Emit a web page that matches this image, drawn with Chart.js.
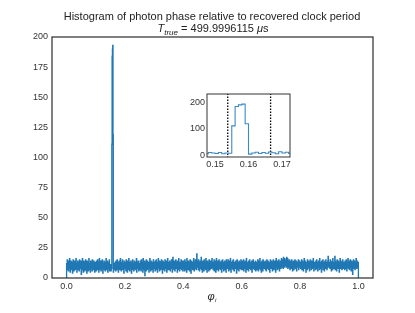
<!DOCTYPE html>
<html><head><meta charset="utf-8">
<script src="https://cdn.jsdelivr.net/npm/chart.js@4.4.0/dist/chart.umd.min.js"></script>
<style>
html,body{margin:0;padding:0;background:#fff;}
#wrap{position:relative;width:415px;height:313px;}
#main{position:absolute;left:0;top:0;}
#inset{position:absolute;left:180px;top:86px;}
</style></head><body>
<div id="wrap">
<canvas id="main" width="415" height="313"></canvas>
<canvas id="inset" width="120" height="90"></canvas>
</div>
<script>
// histogram bins: 1000 bins of width 0.001 over [0, 1)
const binStart = 0;
const binWidth = 0.001;
const counts = [
12,9,15,7,13,10,6,14,11,8,16,9,5,12,10,14,7,11,9,13,4,10,15,8,12,6,11,14,9,7,13,10,16,8,11,5,12,9,14,10,7,13,11,6,15,9,12,8,10,14,
3,11,13,7,16,9,12,5,10,14,8,11,6,13,9,15,7,12,10,4,14,8,11,13,6,10,16,9,7,12,11,5,14,10,8,13,9,6,15,11,10,7,12,14,8,11,5,13,9,12,
10,6,14,9,12,7,15,11,8,13,5,10,16,9,12,7,11,14,6,10,13,8,15,9,4,12,10,7,14,11,9,13,6,12,8,16,10,7,11,14,9,5,13,10,12,8,15,6,11,9,
7,11,6,9,8,111,184,190,193,119,5,9,12,7,11,8,13,10,6,14,9,12,7,15,10,8,13,5,11,9,14,10,7,12,16,8,11,6,13,9,10,15,7,12,9,11,4,14,10,8,
13,9,11,6,15,10,8,12,5,14,9,11,7,16,10,13,6,12,8,11,14,9,4,13,10,7,15,11,9,12,6,10,14,8,13,11,7,12,9,16,5,11,10,13,8,14,9,6,12,10,
11,7,14,9,12,6,15,10,8,13,11,5,16,9,12,7,10,14,2,13,9,11,6,15,10,8,12,14,7,11,9,13,5,12,10,16,8,11,6,14,9,12,7,10,13,11,5,15,9,12,
8,13,10,6,14,11,9,15,7,12,10,5,13,9,16,11,8,12,6,14,10,13,7,11,9,15,8,12,4,10,14,9,11,7,13,12,6,15,10,8,11,14,9,5,12,10,16,7,13,11,
9,12,7,14,10,6,13,11,8,15,9,12,5,10,17,8,13,11,7,14,10,6,12,9,15,11,8,13,10,5,14,9,12,7,16,10,11,6,13,9,12,8,15,10,7,11,14,9,6,12,
10,14,8,11,6,15,9,12,7,13,10,5,16,11,9,12,7,14,10,8,13,6,11,15,9,12,4,10,14,8,13,11,7,12,9,16,10,6,13,11,8,15,9,12,7,10,20,11,14,9,
12,7,15,10,13,6,11,9,14,8,12,17,7,10,13,5,11,14,9,12,6,15,10,8,13,11,7,16,9,12,10,5,14,11,8,13,9,6,15,10,12,7,11,14,9,13,8,10,16,11,
9,13,7,12,10,15,6,11,14,8,12,5,10,16,9,13,7,11,14,10,6,12,15,8,11,9,13,7,10,14,12,5,11,9,15,8,13,10,6,12,11,14,7,9,13,10,5,15,11,8,
13,8,11,15,9,6,12,10,14,7,11,16,9,5,13,10,12,8,14,11,7,15,9,12,6,10,13,11,8,14,9,12,4,11,15,10,7,13,9,12,6,14,10,8,11,13,9,15,7,12,
10,14,9,7,12,11,15,6,13,10,8,12,14,9,5,11,16,10,7,13,9,12,11,6,14,10,8,15,12,9,11,7,13,10,14,5,12,9,11,15,8,10,13,7,12,11,9,14,6,10,
12,9,13,7,11,15,10,6,14,9,12,8,16,11,7,13,10,5,12,14,9,11,6,15,10,13,8,12,9,11,14,7,10,13,6,12,15,9,11,8,14,10,7,13,12,9,5,11,15,10,
11,8,14,10,13,6,12,9,15,11,7,13,10,14,8,12,5,11,16,9,13,10,7,14,12,8,11,15,9,6,13,10,12,14,8,11,16,9,13,10,15,12,8,17,11,14,9,16,12,10,
15,11,13,9,17,12,10,16,8,14,11,13,9,15,12,7,14,10,13,11,8,15,9,12,6,13,10,14,11,7,12,9,15,10,13,8,11,14,6,12,10,9,13,11,15,7,12,10,14,9,
11,13,8,12,10,15,7,11,14,9,12,6,13,10,16,8,11,14,9,12,5,10,13,11,7,15,9,12,10,14,8,11,6,13,10,15,9,12,7,11,14,10,8,13,9,16,11,6,12,10,
13,9,12,7,14,10,11,15,8,12,6,13,10,9,14,11,7,16,10,12,8,13,11,5,14,9,12,10,15,7,11,13,9,6,12,14,10,8,15,11,9,13,7,12,10,14,18,9,11,13,
10,12,8,15,11,9,13,6,12,14,10,7,16,11,9,13,8,12,10,18,7,14,11,9,13,6,12,15,10,8,11,14,9,12,5,13,10,16,8,11,14,9,12,7,13,10,15,11,8,12,
9,13,11,7,14,10,12,8,15,11,6,13,9,12,16,10,8,14,11,7,13,10,15,9,12,6,11,14,10,13,3,12,9,15,8,11,14,10,7,13,12,9,16,10,8,14,11,12,9,13
];
const xTicks = [0, 0.2, 0.4, 0.6, 0.8, 1.0];
const yTicks = [0, 25, 50, 75, 100, 125, 150, 175, 200];
const insetXTicks = [0.15, 0.16, 0.17];
const insetYTicks = [0, 100, 200];
const markerLines = [0.1538, 0.1666];

// step outline like matplotlib histtype='step'
const stepPts = [{x: binStart, y: 0}];
counts.forEach((c, i) => stepPts.push({x: binStart + i * binWidth, y: c}));
stepPts.push({x: binStart + counts.length * binWidth, y: counts[counts.length - 1]});
stepPts.push({x: binStart + counts.length * binWidth, y: 0});

const FONT = '"Liberation Sans", Arial, sans-serif';
const TXT = '#333';
const FRAME = '#333';

function fixTicks(list) {
    return scale => { scale.ticks = list.map(v => ({value: v})); };
}

const framePlugin = {
    id: 'frame',
    afterDraw(chart) {
        const a = chart.chartArea, c = chart.ctx;
        c.save();
        c.strokeStyle = FRAME;
        c.lineWidth = chart.canvas.id === 'main' ? 1.25 : 1;
        c.strokeRect(a.left, a.top, a.right - a.left, a.bottom - a.top);
        c.restore();
    }
};

const textPlugin = {
    id: 'texts',
    afterDraw(chart) {
        const c = chart.ctx;
        c.save();
        c.fillStyle = '#222';
        c.textBaseline = 'alphabetic';
        // title line 1
        c.font = '11px ' + FONT;
        c.textAlign = 'center';
        c.fillText('Histogram of photon phase relative to recovered clock period', 212, 20);
        // title line 2 : T_true = 499.9996115 μs
        const parts = [
            {t: 'T', f: 'italic 11px ' + FONT, dy: 0},
            {t: 'true', f: 'italic 8px ' + FONT, dy: 2.5},
            {t: ' = 499.9996115 ', f: '11px ' + FONT, dy: 0},
            {t: 'μ', f: 'italic 11px ' + FONT, dy: 0},
            {t: 's', f: '11px ' + FONT, dy: 0}
        ];
        let w = 0;
        parts.forEach(p => { c.font = p.f; p.w = c.measureText(p.t).width; w += p.w; });
        let x = 213 - w / 2;
        c.textAlign = 'left';
        parts.forEach(p => { c.font = p.f; c.fillText(p.t, x, 32 + p.dy); x += p.w; });
        // x label phi_i
        c.font = 'italic 11px ' + FONT;
        const pw = c.measureText('φ').width;
        c.fillText('φ', 211 - pw / 2, 300);
        c.font = 'italic 6px ' + FONT;
        c.fillText('i', 211 + pw / 2 + 0.5, 302);
        c.restore();
    }
};

new Chart(document.getElementById('main'), {
    type: 'line',
    data: {
        datasets: [{
            data: stepPts,
            stepped: true,
            borderColor: '#1f77b4',
            borderWidth: 1.3,
            pointRadius: 0,
            fill: false
        }]
    },
    options: {
        responsive: false,
        animation: false,
        parsing: false,
        layout: {padding: {top: 37, right: 42, left: 0, bottom: 0}},
        plugins: {legend: {display: false}, tooltip: {enabled: false}, title: {display: false}},
        scales: {
            x: {
                type: 'linear', min: -0.05, max: 1.05,
                afterBuildTicks: fixTicks(xTicks),
                afterFit: s => { s.height = 35; },
                grid: {display: false, drawTicks: false},
                border: {display: false},
                ticks: {padding: 3, color: TXT, font: {family: FONT, size: 9}, maxRotation: 0,
                    callback: v => v.toFixed(1)}
            },
            y: {
                min: 0, max: 200,
                afterBuildTicks: fixTicks(yTicks),
                afterFit: s => { s.width = 52; },
                grid: {display: false, drawTicks: false},
                border: {display: false},
                ticks: {padding: 4, color: TXT, font: {family: FONT, size: 9}}
            }
        }
    },
    plugins: [framePlugin, textPlugin]
});

const insetSets = [{
    data: stepPts,
    stepped: true,
    borderColor: '#3a8ac6',
    borderWidth: 1.1,
    pointRadius: 0,
    fill: false
}];
markerLines.forEach(m => insetSets.push({
    data: [{x: m, y: -10}, {x: m, y: 240}],
    borderColor: '#000',
    borderWidth: 1.3,
    borderDash: [1.5, 1.5],
    pointRadius: 0,
    fill: false
}));

new Chart(document.getElementById('inset'), {
    type: 'line',
    data: {datasets: insetSets},
    options: {
        responsive: false,
        animation: false,
        parsing: false,
        layout: {padding: {top: 8, right: 10, left: 0, bottom: 0}},
        plugins: {legend: {display: false}, tooltip: {enabled: false}},
        scales: {
            x: {
                type: 'linear', min: 0.1476, max: 0.1724,
                afterBuildTicks: fixTicks(insetXTicks),
                afterFit: s => { s.height = 19; },
                grid: {display: false, drawTicks: false},
                border: {display: false},
                ticks: {padding: 2, color: TXT, font: {family: FONT, size: 9}, maxRotation: 0,
                    callback: v => v.toFixed(2)}
            },
            y: {
                min: -6, max: 231,
                afterBuildTicks: fixTicks(insetYTicks),
                afterFit: s => { s.width = 27; },
                grid: {display: false, drawTicks: false},
                border: {display: false},
                ticks: {padding: 2, color: TXT, font: {family: FONT, size: 9}}
            }
        }
    },
    plugins: [framePlugin]
});
</script>
</body></html>
